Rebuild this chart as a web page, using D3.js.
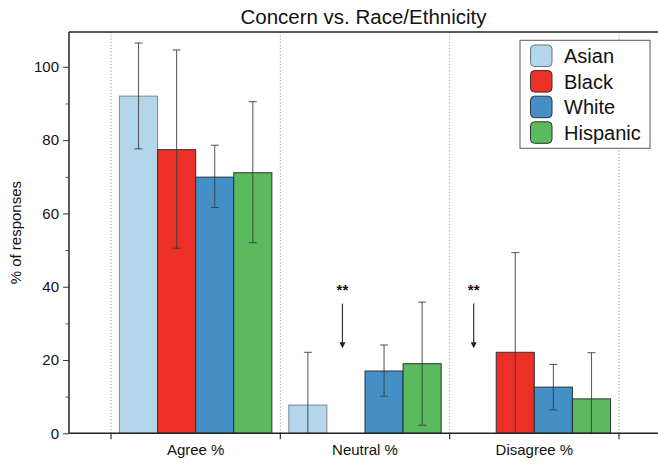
<!DOCTYPE html>
<html>
<head>
<meta charset="utf-8">
<script src="https://cdn.jsdelivr.net/npm/d3@7"></script>
<style>
  html, body { margin: 0; padding: 0; background: #fff; }
  svg { display: block; font-family: "Liberation Sans", Arial, Helvetica, sans-serif; }
</style>
</head>
<body>
<svg id="chart" width="658" height="464"></svg>
<script>
// ---- Data ----
const categories = ["Agree %", "Neutral %", "Disagree %"];
const seriesNames = ["Asian", "Black", "White", "Hispanic"];
const seriesColors = ["#b4d6ea", "#ec3027", "#4490c6", "#5cba5e"];
const values = {
  Asian:    [92.0, 7.7, 0],
  Black:    [77.4, 0, 22.1],
  White:    [69.9, 17.0, 12.6],
  Hispanic: [71.1, 19.0, 9.4]
};
const errUpper = {
  Asian:    [106.5, 22.1, null],
  Black:    [104.6, null, 49.3],
  White:    [78.6, 24.1, 18.8],
  Hispanic: [90.5, 35.8, 22.0]
};
const errLower = {
  Asian:    [77.6, 0, null],
  Black:    [50.5, null, 0],
  White:    [61.6, 10.1, 6.4],
  Hispanic: [52.0, 2.2, 0]
};
const yMajorTicks = [0, 20, 40, 60, 80, 100];
const yMinorTicks = [10, 30, 50, 70, 90];
const annotations = [
  { category: "Neutral %", series: "Black", label: "**", top: 35.4, tip: 23.2 },
  { category: "Disagree %", series: "Asian", label: "**", top: 35.4, tip: 23.2 }
];

// ---- Layout ----
const svg = d3.select("#chart");
const plotLeft = 69, plotRight = 658, plotTop = 32, plotBottom = 433.3;

const y = d3.scaleLinear().domain([0, 109.5]).range([plotBottom, plotTop]);
const x = d3.scaleBand().domain(categories).range([111, 619]).paddingInner(0).paddingOuter(0);
const xs = d3.scaleBand().domain(seriesNames).range([0, x.bandwidth()]).paddingInner(0).paddingOuter(0.222);
const color = d3.scaleOrdinal().domain(seriesNames).range(seriesColors);

// Dotted separators at category boundaries
const bounds = categories.map(c => x(c)).concat([x(categories[categories.length - 1]) + x.bandwidth()]);
svg.append("g").selectAll("line").data(bounds).join("line")
  .attr("x1", d => d).attr("x2", d => d)
  .attr("y1", plotTop).attr("y2", plotBottom)
  .attr("stroke", "#9a9a9a").attr("stroke-width", 1)
  .attr("stroke-dasharray", "1.2,2");

// Bars
const barData = [];
seriesNames.forEach(s => categories.forEach((c, i) => {
  barData.push({ s, c, v: values[s][i], hi: errUpper[s][i], lo: errLower[s][i] });
}));

svg.append("g").selectAll("rect").data(barData.filter(d => d.v > 0)).join("rect")
  .attr("x", d => x(d.c) + xs(d.s))
  .attr("y", d => y(d.v))
  .attr("width", xs.bandwidth())
  .attr("height", d => y(0) - y(d.v))
  .attr("fill", d => color(d.s))
  .attr("stroke", d => d.s === "Asian" ? "#7a7f84" : "#1e2a30")
  .attr("stroke-opacity", 0.85)
  .attr("stroke-width", 1.1);

// Error bars
const errG = svg.append("g").attr("stroke", "#3a3a3a").attr("stroke-opacity", 0.8).attr("stroke-width", 1.1);
const errData = barData.filter(d => d.hi !== null);
const cx = d => x(d.c) + xs(d.s) + xs.bandwidth() / 2;
const capW = 4;
errG.selectAll("line.v").data(errData).join("line").attr("class", "v")
  .attr("x1", cx).attr("x2", cx)
  .attr("y1", d => y(d.hi)).attr("y2", d => y(d.lo));
errG.selectAll("line.hi").data(errData).join("line").attr("class", "hi")
  .attr("x1", d => cx(d) - capW).attr("x2", d => cx(d) + capW)
  .attr("y1", d => y(d.hi)).attr("y2", d => y(d.hi));
errG.selectAll("line.lo").data(errData.filter(d => d.lo > 0)).join("line").attr("class", "lo")
  .attr("x1", d => cx(d) - capW).attr("x2", d => cx(d) + capW)
  .attr("y1", d => y(d.lo)).attr("y2", d => y(d.lo));

// Annotations (arrows with **)
const annG = svg.append("g");
annotations.forEach(a => {
  const ax = x(a.category) + xs(a.series) + xs.bandwidth() / 2 - 3.5;
  annG.append("text").attr("x", ax).attr("y", y(a.top) - 9)
    .attr("text-anchor", "middle").attr("font-size", 15).attr("font-weight", "bold")
    .attr("fill", "#111").text(a.label);
  annG.append("line").attr("x1", ax).attr("x2", ax)
    .attr("y1", y(a.top)).attr("y2", y(a.tip) - 4)
    .attr("stroke", "#333").attr("stroke-width", 1.2);
  const ty = y(a.tip);
  annG.append("path")
    .attr("d", `M${ax - 3},${ty - 6} L${ax + 3},${ty - 6} L${ax},${ty} Z`)
    .attr("fill", "#222");
});

// Axes frame lines
svg.append("line").attr("x1", plotLeft).attr("x2", plotRight).attr("y1", plotTop).attr("y2", plotTop)
  .attr("stroke", "#222").attr("stroke-width", 1.5);
svg.append("line").attr("x1", plotLeft).attr("x2", plotRight).attr("y1", plotBottom).attr("y2", plotBottom)
  .attr("stroke", "#222").attr("stroke-width", 1.5);
svg.append("line").attr("x1", plotLeft).attr("x2", plotLeft).attr("y1", plotTop).attr("y2", plotBottom)
  .attr("stroke", "#222").attr("stroke-width", 1.5);

// Y axis
const yAxis = svg.append("g").attr("transform", `translate(${plotLeft},0)`)
  .call(d3.axisLeft(y).tickValues(yMajorTicks).tickSize(6).tickPadding(4).tickFormat(d3.format("d")));
yAxis.select(".domain").remove();
yAxis.selectAll(".tick line").attr("stroke", "#333");
yAxis.selectAll(".tick text").attr("font-size", 15).attr("fill", "#111")
  .attr("font-family", "\"Liberation Sans\", Arial, sans-serif");
const yMinor = svg.append("g").attr("transform", `translate(${plotLeft},0)`)
  .call(d3.axisLeft(y).tickValues(yMinorTicks).tickSize(3.5).tickFormat(""));
yMinor.select(".domain").remove();
yMinor.selectAll(".tick line").attr("stroke", "#555");

// X axis: ticks at boundaries, labels in band centres
const xTicks = svg.append("g").attr("transform", `translate(0,${plotBottom})`);
xTicks.selectAll("line").data(bounds).join("line")
  .attr("x1", d => d).attr("x2", d => d).attr("y1", 0).attr("y2", 6)
  .attr("stroke", "#333").attr("stroke-width", 1.2);
xTicks.selectAll("text").data(categories).join("text")
  .attr("x", d => x(d) + x.bandwidth() / 2).attr("y", 22)
  .attr("text-anchor", "middle").attr("font-size", 15).attr("fill", "#111").text(d => d);

// Y label
svg.append("text").attr("transform", `translate(21,${(plotTop + plotBottom) / 2}) rotate(-90)`)
  .attr("text-anchor", "middle").attr("font-size", 15).attr("fill", "#111").text("% of responses");

// Title
svg.append("text").attr("x", (plotLeft + plotRight) / 2).attr("y", 24)
  .attr("text-anchor", "middle").attr("font-size", 20.5).attr("fill", "#111")
  .text("Concern vs. Race/Ethnicity");

// Legend
const leg = svg.append("g").attr("transform", "translate(520,40.3)");
leg.append("rect").attr("x", 0).attr("y", 0).attr("width", 130).attr("height", 108)
  .attr("fill", "#fff").attr("stroke", "#666").attr("stroke-width", 1.1);
const items = leg.selectAll("g.item").data(seriesNames).join("g").attr("class", "item")
  .attr("transform", (d, i) => `translate(10.5,${4.7 + i * 25.6})`);
items.append("rect").attr("width", 21.5).attr("height", 21.5).attr("rx", 4).attr("ry", 4)
  .attr("fill", d => color(d)).attr("stroke", d => d === "Asian" ? "#6b7680" : "#333")
  .attr("stroke-width", 1);
items.append("text").attr("x", 33.5).attr("y", 18).attr("font-size", 20).attr("fill", "#111").text(d => d);
</script>
</body>
</html>
